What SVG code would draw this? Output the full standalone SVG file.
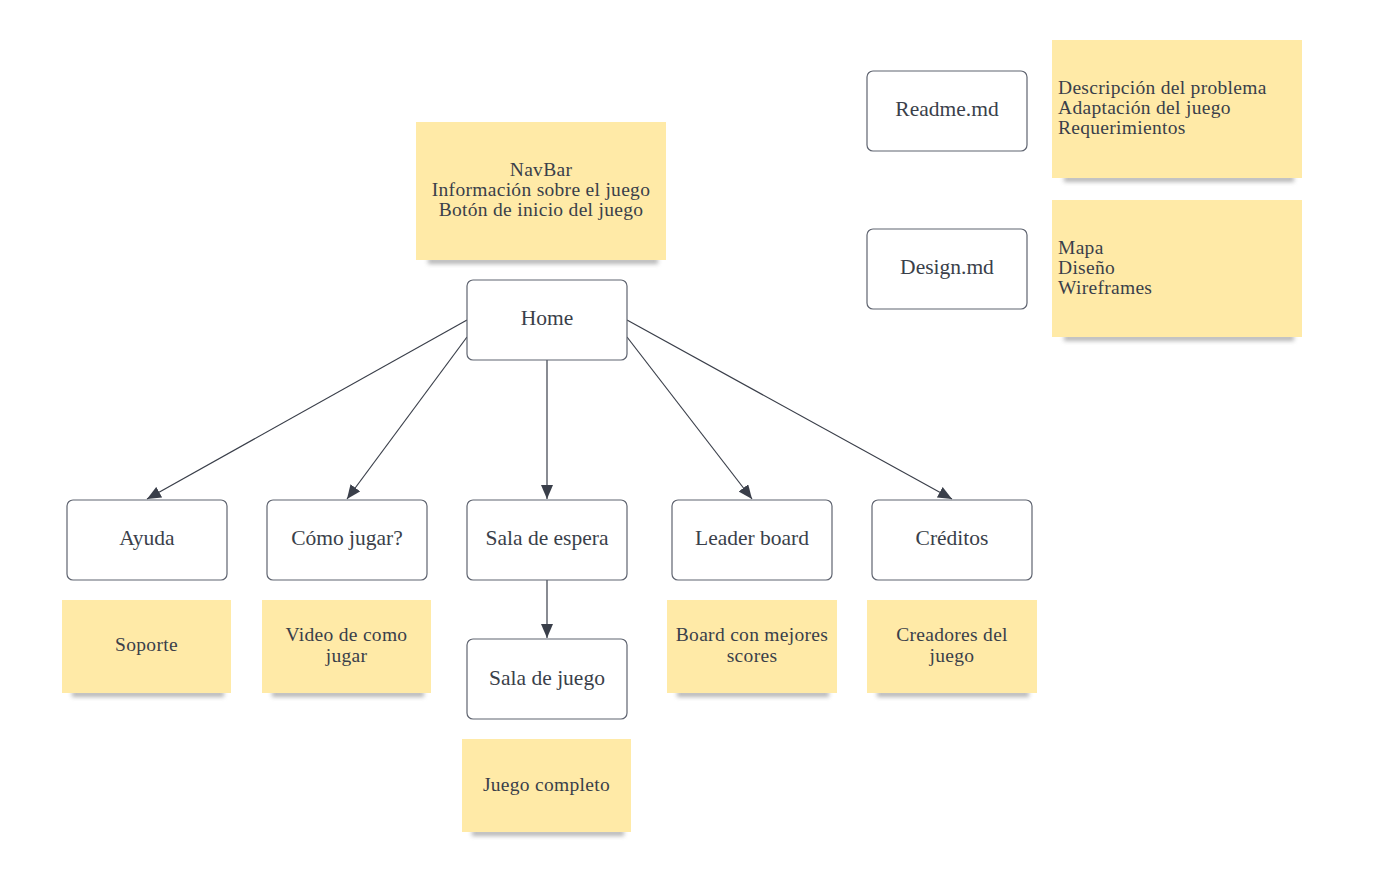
<svg xmlns="http://www.w3.org/2000/svg" width="1375" height="885" viewBox="0 0 1375 885">
<style>
.node rect{fill:#ffffff;stroke:#5f6470;stroke-width:1.2}
.node text{font-family:"Liberation Serif","DejaVu Serif",serif;font-size:21.5px;fill:#3a3f4a;text-anchor:middle}
.note .bg{fill:#ffeaa7}
.note .sh{fill:#7a7a7a;opacity:0.55;filter:url(#blur)}
.note text{font-family:"Liberation Serif","DejaVu Serif",serif;font-size:19.5px;letter-spacing:0.3px;fill:#3a3f4a;text-anchor:middle}
.note text.left{text-anchor:start}
.edges line{stroke:#3a3f4a;stroke-width:1.2;fill:none;marker-end:url(#arr)}
</style>
<defs>
<filter id="blur" x="-10%" y="-200%" width="120%" height="500%"><feGaussianBlur stdDeviation="2"/></filter>
<marker id="arr" viewBox="0 0 14 12" refX="14" refY="6" markerWidth="14" markerHeight="12" markerUnits="userSpaceOnUse" orient="auto"><path d="M0,0 L14,6 L0,12 Z" fill="#3a3f4a"/></marker>
</defs>
<rect width="1375" height="885" fill="#ffffff"/>

<g id="note-navbar" class="note">
<rect class="sh" x="428" y="258" width="230" height="6"/>
<rect class="bg" x="416" y="122" width="250" height="138"/>
<text x="541" y="176">NavBar</text>
<text x="541" y="196">Información sobre el juego</text>
<text x="541" y="216">Botón de inicio del juego</text>
</g>
<g id="note-readme" class="note">
<rect class="sh" x="1064" y="176" width="230" height="6"/>
<rect class="bg" x="1052" y="40" width="250" height="138"/>
<text class="left" x="1058" y="94">Descripción del problema</text>
<text class="left" x="1058" y="114">Adaptación del juego</text>
<text class="left" x="1058" y="134">Requerimientos</text>
</g>
<g id="note-design" class="note">
<rect class="sh" x="1064" y="335" width="230" height="6"/>
<rect class="bg" x="1052" y="200" width="250" height="137"/>
<text class="left" x="1058" y="254">Mapa</text>
<text class="left" x="1058" y="274">Diseño</text>
<text class="left" x="1058" y="294">Wireframes</text>
</g>
<g id="note-soporte" class="note">
<rect class="sh" x="72" y="691" width="152" height="6"/>
<rect class="bg" x="62" y="600" width="169" height="93"/>
<text x="146.5" y="651">Soporte</text>
</g>
<g id="note-video" class="note">
<rect class="sh" x="272" y="691" width="152" height="6"/>
<rect class="bg" x="262" y="600" width="169" height="93"/>
<text x="346.5" y="641">Video de como</text>
<text x="346.5" y="662">jugar</text>
</g>
<g id="note-board" class="note">
<rect class="sh" x="677" y="691" width="152" height="6"/>
<rect class="bg" x="667" y="600" width="170" height="93"/>
<text x="752" y="641">Board con mejores</text>
<text x="752" y="662">scores</text>
</g>
<g id="note-creadores" class="note">
<rect class="sh" x="877" y="691" width="152" height="6"/>
<rect class="bg" x="867" y="600" width="170" height="93"/>
<text x="952" y="641">Creadores del</text>
<text x="952" y="662">juego</text>
</g>
<g id="note-juego" class="note">
<rect class="sh" x="472" y="830" width="152" height="6"/>
<rect class="bg" x="462" y="739" width="169" height="93"/>
<text x="546.5" y="791">Juego completo</text>
</g>

<g id="edges" class="edges">
<line x1="467" y1="320" x2="147" y2="499"/>
<line x1="467" y1="337" x2="347" y2="499"/>
<line x1="547" y1="360" x2="547" y2="499"/>
<line x1="627" y1="337" x2="752" y2="499"/>
<line x1="627" y1="320" x2="952" y2="499"/>
<line x1="547" y1="580" x2="547" y2="638"/>
</g>

<g id="home" class="node"><rect x="467" y="280" width="160" height="80" rx="6"/><text x="547" y="325">Home</text></g>
<g id="readme" class="node"><rect x="867" y="71" width="160" height="80" rx="6"/><text x="947" y="116">Readme.md</text></g>
<g id="design" class="node"><rect x="867" y="229" width="160" height="80" rx="6"/><text x="947" y="274">Design.md</text></g>
<g id="ayuda" class="node"><rect x="67" y="500" width="160" height="80" rx="6"/><text x="147" y="545">Ayuda</text></g>
<g id="como-jugar" class="node"><rect x="267" y="500" width="160" height="80" rx="6"/><text x="347" y="545">Cómo jugar?</text></g>
<g id="sala-espera" class="node"><rect x="467" y="500" width="160" height="80" rx="6"/><text x="547" y="545">Sala de espera</text></g>
<g id="leader-board" class="node"><rect x="672" y="500" width="160" height="80" rx="6"/><text x="752" y="545">Leader board</text></g>
<g id="creditos" class="node"><rect x="872" y="500" width="160" height="80" rx="6"/><text x="952" y="545">Créditos</text></g>
<g id="sala-juego" class="node"><rect x="467" y="639" width="160" height="80" rx="6"/><text x="547" y="685">Sala de juego</text></g>
</svg>
